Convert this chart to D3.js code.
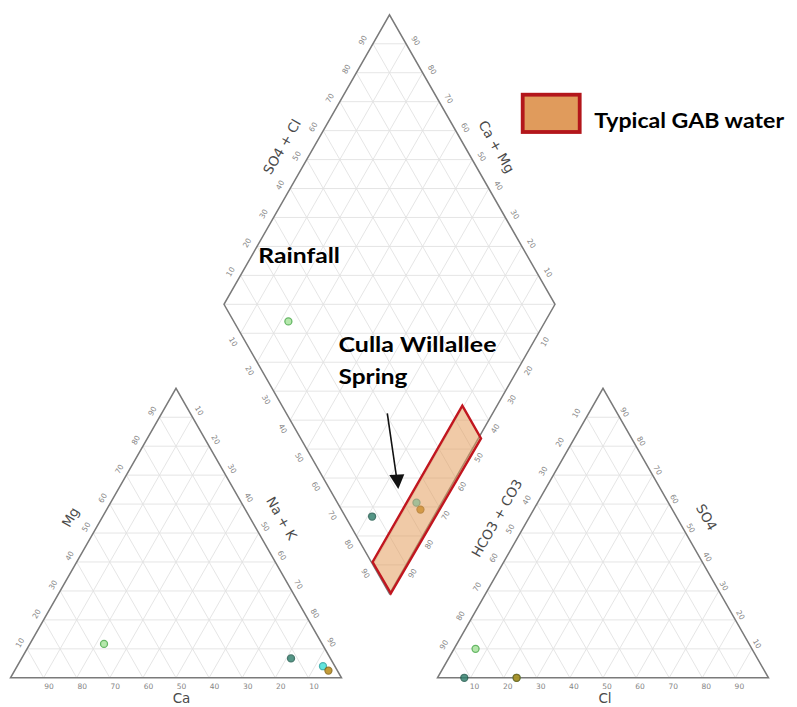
<!DOCTYPE html>
<html>
<head>
<meta charset="utf-8">
<script src="https://cdn.jsdelivr.net/npm/d3@7"></script>
<style>
  html, body { margin: 0; padding: 0; background: #ffffff; }
  svg { display: block; }
</style>
</head>
<body>
<svg id="piper" width="797" height="707"></svg>
<script>
// ---- Sample chemistry (percent of meq/L) ----
const sampleIds = ["S1", "S2", "S3", "S4"];
const calcium   = [65.9, 11.9, 3.6, 2.7];
const magnesium = [11.7, 6.7, 4.0, 2.5];
const sodiumPotassium = [22.4, 81.4, 92.4, 94.8];
const bicarbonate = [83.5, 91.9, 76.1, 76.1];
const chloride    = [6.5, 8.1, 23.9, 23.9];
const sulfate     = [10.0, 0.0, 0.0, 0.0];

// Typical GAB water field, as (Na+K %, HCO3+CO3 %) corners
const gabNaK   = [89.5, 100.8, 100.3, 89.4];
const gabHCO3  = [45.5, 45.5, 99.5, 99.6];

// Axis tick values
const tickValues = [10, 20, 30, 40, 50, 60, 70, 80, 90];

// ---- Styles ----
const sampleStyle = {
  S1: { fill: "#a6e39a", stroke: "#45a845" },
  S2: { fill: "#2f7f6c", stroke: "#1e5a4c" },
  S3: { fill: "#3fe0d6", stroke: "#23a3a0" },
  S4: { fill: "#b8860b", stroke: "#85600a" }
};

const svg = d3.select("#piper");
const H3 = Math.sqrt(3) / 2;
const gap = 0.29;               // spacing between the two triangles (in side lengths)

// unit coordinates -> pixels
const x = d3.scaleLinear().domain([0, 1]).range([10.5, 341.5]);
const y = d3.scaleLinear().domain([0, 1]).range([677.8, 677.8 - 334.3]);
const px = p => [x(p[0]), y(p[1])];

const catU0 = 0, anU0 = 1 + gap;
const dBottom = [1 + gap / 2, gap * H3];
const eL = [-0.5, H3], eR = [0.5, H3];
const dLeft  = [dBottom[0] + eL[0], dBottom[1] + eL[1]];
const dRight = [dBottom[0] + eR[0], dBottom[1] + eR[1]];
const dTop   = [dBottom[0] + eL[0] + eR[0], dBottom[1] + eL[1] + eR[1]];

function cationPt(ca, mg, nak) {
  const s = ca + mg + nak;
  return [catU0 + nak / s + mg / s / 2, mg / s * H3];
}
function anionPt(hco3, cl, so4) {
  const s = hco3 + cl + so4;
  return [anU0 + cl / s + so4 / s / 2, so4 / s * H3];
}
function diamondPt(nak, hco3) {
  const a = 1 - nak / 100, c = 1 - hco3 / 100;
  return [dBottom[0] + a * eL[0] + c * eR[0], dBottom[1] + a * eL[1] + c * eR[1]];
}

const line = d3.line().x(d => x(d[0])).y(d => y(d[1]));

// ---- Grid ----
const gridG = svg.append("g").attr("stroke", "#e2e2e2").attr("stroke-width", 0.9).attr("fill", "none");
function triangleGrid(u0) {
  tickValues.forEach(v => {
    const t = v / 100;
    gridG.append("path").attr("d", line([[u0 + t / 2, t * H3], [u0 + 1 - t / 2, t * H3]]));
    gridG.append("path").attr("d", line([[u0 + t, 0], [u0 + 0.5 + t / 2, (1 - t) * H3]]));
    gridG.append("path").attr("d", line([[u0 + t, 0], [u0 + t / 2, t * H3]]));
  });
}
triangleGrid(catU0);
triangleGrid(anU0);
tickValues.forEach(v => {
  const t = v / 100;
  const a = [dBottom[0] + t * eL[0], dBottom[1] + t * eL[1]];
  gridG.append("path").attr("d", line([a, [a[0] + eR[0], a[1] + eR[1]]]));
  const b = [dBottom[0] + t * eR[0], dBottom[1] + t * eR[1]];
  gridG.append("path").attr("d", line([b, [b[0] + eL[0], b[1] + eL[1]]]));
});
for (let k = 1; k < 20; k++) {
  const hw = (k <= 10 ? k : 20 - k) * 0.05;
  const vv = dBottom[1] + k * H3 / 10;
  gridG.append("path").attr("d", line([[dBottom[0] - hw, vv], [dBottom[0] + hw, vv]]));
}

// ---- Outlines ----
const frameG = svg.append("g").attr("stroke", "#7a7a7a").attr("stroke-width", 1.5)
  .attr("fill", "none").attr("stroke-linejoin", "miter");
[catU0, anU0].forEach(u0 => {
  frameG.append("path").attr("d", line([[u0, 0], [u0 + 1, 0], [u0 + 0.5, H3]]) + "Z");
});
frameG.append("path").attr("d", line([dBottom, dRight, dTop, dLeft]) + "Z");

// ---- Tick labels ----
const tickG = svg.append("g").attr("font-family", "DejaVu Sans, sans-serif")
  .attr("font-size", 7.5).attr("fill", "#858585")
  .attr("text-anchor", "middle").attr("dominant-baseline", "central");
function tick(p, dx, dy, rot, label) {
  const [X, Y] = px(p);
  tickG.append("text")
    .attr("transform", `translate(${X + dx},${Y + dy}) rotate(${rot})`)
    .text(label);
}
tickValues.forEach(v => {
  const t = v / 100;
  // cation triangle
  tick([catU0 + 1 - t, 0], 5.5, 8.5, 0, v);                       // Ca
  tick([catU0 + t / 2, t * H3], -7, -6, -60, v);                   // Mg
  tick([catU0 + 0.5 + t / 2, (1 - t) * H3], 6.5, -6.5, 60, v);     // Na + K
  // anion triangle
  tick([anU0 + t, 0], 4, 8.5, 0, v);                               // Cl
  tick([anU0 + (1 - t) / 2, (1 - t) * H3], -10, -4, -60, v);       // HCO3 + CO3
  tick([anU0 + 1 - t / 2, t * H3], 5, -5, 60, v);                  // SO4
  // diamond
  tick([dLeft[0] + 0.5 * t, dLeft[1] + H3 * t], -10, -3.5, -60, v);   // SO4 + Cl
  tick([dRight[0] - 0.5 * t, dRight[1] + H3 * t], 9.5, -3, 60, v);    // Ca + Mg
  tick([dLeft[0] + 0.5 * t, dLeft[1] - H3 * t], -7.5, 8.5, 60, v);    // Na + K
  tick([dRight[0] - 0.5 * t, dRight[1] - H3 * t], 6.5, 8.5, -60, v);  // HCO3 + CO3
});

// ---- Axis titles ----
const titleG = svg.append("g").attr("font-family", "DejaVu Sans, sans-serif")
  .attr("font-size", 13.5).attr("fill", "#4a4a4a")
  .attr("text-anchor", "middle").attr("dominant-baseline", "central");
function title(p, dx, dy, rot, label) {
  const [X, Y] = px(p);
  titleG.append("text")
    .attr("transform", `translate(${X + dx},${Y + dy}) rotate(${rot})`)
    .text(label);
}
title([catU0 + 0.5, 0], 5.5, 20.5, 0, "Ca");
title([catU0 + 0.25, H3 / 2], -23, -16, -60, "Mg");
title([catU0 + 0.75, H3 / 2], 23, -15, 60, "Na + K");
title([anU0 + 0.5, 0], 2, 20.5, 0, "Cl");
title([anU0 + 0.25, H3 / 2], -23.5, -15, -60, "HCO3 + CO3");
title([anU0 + 0.75, H3 / 2], 21, -16, 60, "SO4");
title([(dLeft[0] + dTop[0]) / 2, (dLeft[1] + dTop[1]) / 2], -25, -13, -60, "SO4 + Cl");
title([(dRight[0] + dTop[0]) / 2, (dRight[1] + dTop[1]) / 2], 24.5, -13, 60, "Ca + Mg");

// ---- Sample points ----
const samples = sampleIds.map((id, i) => ({
  id,
  cat: cationPt(calcium[i], magnesium[i], sodiumPotassium[i]),
  an: anionPt(bicarbonate[i], chloride[i], sulfate[i]),
  dia: diamondPt(
    100 * sodiumPotassium[i] / (calcium[i] + magnesium[i] + sodiumPotassium[i]),
    100 * bicarbonate[i] / (bicarbonate[i] + chloride[i] + sulfate[i]))
}));
const ptG = svg.append("g");
["cat", "an", "dia"].forEach(key => {
  ptG.selectAll(null).data(samples).join("circle")
    .attr("cx", d => x(d[key][0]))
    .attr("cy", d => y(d[key][1]))
    .attr("r", 3.5)
    .attr("fill", d => sampleStyle[d.id].fill)
    .attr("stroke", d => sampleStyle[d.id].stroke)
    .attr("stroke-width", 1.3)
    .attr("opacity", 0.82);
});

// ---- Typical GAB water field ----
const gabCorners = gabNaK.map((n, i) => diamondPt(n, gabHCO3[i]));
svg.append("path")
  .attr("d", line(gabCorners) + "Z")
  .attr("fill", "#e39a57").attr("fill-opacity", 0.52)
  .attr("stroke", "#c1161f").attr("stroke-width", 2.4)
  .attr("stroke-linejoin", "miter");

// ---- Legend ----
svg.append("rect")
  .attr("x", 522.7).attr("y", 94.7).attr("width", 57).attr("height", 37.3)
  .attr("fill", "#e09b5c").attr("stroke", "#b3161b").attr("stroke-width", 3.8);

// ---- Annotations ----
const noteG = svg.append("g").attr("font-family", "Lato, 'Open Sans', sans-serif")
  .attr("font-weight", "bold").attr("font-size", 21).attr("fill", "#000");
noteG.append("text").attr("x", 594.3).attr("y", 128.3)
  .attr("textLength", 189.7).attr("lengthAdjust", "spacingAndGlyphs").text("Typical GAB water");
noteG.append("text").attr("x", 258.3).attr("y", 263.3)
  .attr("textLength", 81.7).attr("lengthAdjust", "spacingAndGlyphs").text("Rainfall");
noteG.append("text").attr("x", 338.5).attr("y", 351.7)
  .attr("textLength", 158).attr("lengthAdjust", "spacingAndGlyphs").text("Culla Willallee");
noteG.append("text").attr("x", 338.5).attr("y", 384)
  .attr("textLength", 69).attr("lengthAdjust", "spacingAndGlyphs").text("Spring");

// arrow toward the spring samples
svg.append("line")
  .attr("x1", 387.3).attr("y1", 413.3).attr("x2", 396.5).attr("y2", 477)
  .attr("stroke", "#111").attr("stroke-width", 1.6);
svg.append("path")
  .attr("d", "M398.3,489 L389.3,475 L404.3,474.3 Z")
  .attr("fill", "#111");
</script>
</body>
</html>
